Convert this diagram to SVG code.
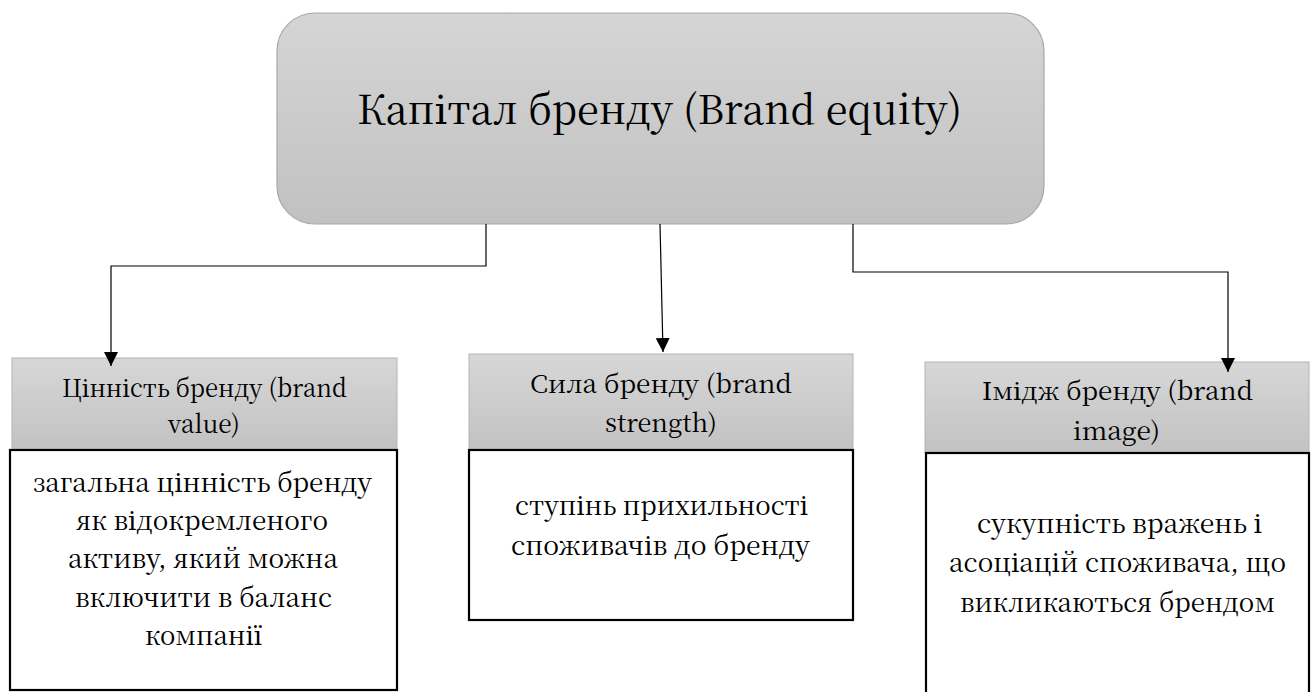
<svg xmlns="http://www.w3.org/2000/svg" width="1313" height="692" viewBox="0 0 1313 692">
<style>
text{font-family:'Noto Serif CJK SC','DejaVu Serif',serif;fill:#000;text-anchor:middle}
.title{font-size:40px}
.hdr{font-size:25px}
.body{font-size:26px}
.hbox{fill:url(#gh);stroke:#b4b4b4;stroke-width:1}
.bbox{fill:#fff;stroke:#000;stroke-width:2.2}
.conn{fill:none;stroke:#000;stroke-width:1.2}
</style>
<defs>
<linearGradient id="gt" x1="0" y1="0" x2="0" y2="1">
<stop offset="0" stop-color="#d5d5d5"/>
<stop offset="1" stop-color="#c1c1c1"/>
</linearGradient>
<linearGradient id="gh" x1="0" y1="0" x2="0" y2="1">
<stop offset="0" stop-color="#d7d7d7"/>
<stop offset="1" stop-color="#c2c2c2"/>
</linearGradient>
<marker id="arr" viewBox="0 0 14 14" refX="14" refY="7" markerWidth="14" markerHeight="14" markerUnits="userSpaceOnUse" orient="auto">
<path d="M0,0 L14,7 L0,14 Z" fill="#000"/>
</marker>
</defs>
<g id="brand-equity">
<rect x="277" y="13" width="767" height="211" rx="38" ry="38" fill="url(#gt)" stroke="#a8a8a8" stroke-width="1.2"/>
<text class="title" x="659.5" y="124" textLength="605" lengthAdjust="spacingAndGlyphs">Капітал бренду (Brand equity)</text>
</g>
<g id="brand-value">
<rect class="hbox" x="12" y="358" width="385" height="92"/>
<rect class="bbox" x="10" y="450" width="387" height="240"/>
<text class="hdr" x="204.5" y="397" textLength="285" lengthAdjust="spacingAndGlyphs">Цінність бренду (brand</text>
<text class="hdr" x="204" y="433" textLength="72" lengthAdjust="spacingAndGlyphs">value)</text>
<text class="body" x="202.5" y="492" textLength="339" lengthAdjust="spacingAndGlyphs">загальна цінність бренду</text>
<text class="body" x="202" y="530" textLength="252" lengthAdjust="spacingAndGlyphs">як відокремленого</text>
<text class="body" x="203" y="568" textLength="270" lengthAdjust="spacingAndGlyphs">активу, який можна</text>
<text class="body" x="203.5" y="607" textLength="257" lengthAdjust="spacingAndGlyphs">включити в баланс</text>
<text class="body" x="203.5" y="645" textLength="117" lengthAdjust="spacingAndGlyphs">компанії</text>
</g>
<g id="brand-strength">
<rect class="hbox" x="469" y="354" width="384" height="96"/>
<rect class="bbox" x="469" y="450" width="384" height="170"/>
<text class="hdr" x="661" y="393" textLength="262" lengthAdjust="spacingAndGlyphs">Сила бренду (brand</text>
<text class="hdr" x="661" y="432" textLength="112" lengthAdjust="spacingAndGlyphs">strength)</text>
<text class="body" x="661.5" y="515" textLength="293" lengthAdjust="spacingAndGlyphs">ступінь прихильності</text>
<text class="body" x="660.5" y="555" textLength="299" lengthAdjust="spacingAndGlyphs">споживачів до бренду</text>
</g>
<g id="brand-image">
<rect class="hbox" x="925" y="362" width="384" height="91"/>
<rect class="bbox" x="926" y="453" width="383" height="250"/>
<text class="hdr" x="1117.5" y="400" textLength="271" lengthAdjust="spacingAndGlyphs">Імідж бренду (brand</text>
<text class="hdr" x="1116.5" y="440" textLength="87" lengthAdjust="spacingAndGlyphs">image)</text>
<text class="body" x="1119.5" y="533" textLength="285" lengthAdjust="spacingAndGlyphs">сукупність вражень і</text>
<text class="body" x="1117.5" y="572" textLength="337" lengthAdjust="spacingAndGlyphs">асоціацій споживача, що</text>
<text class="body" x="1117.5" y="612" textLength="315" lengthAdjust="spacingAndGlyphs">викликаються брендом</text>
</g>
<g id="connectors">
<path class="conn" d="M486,224 V266 H111 V366" marker-end="url(#arr)"/>
<path class="conn" d="M660,224 L663,352" marker-end="url(#arr)"/>
<path class="conn" d="M853,224 V272 H1228 V372" marker-end="url(#arr)"/>
</g>
</svg>
